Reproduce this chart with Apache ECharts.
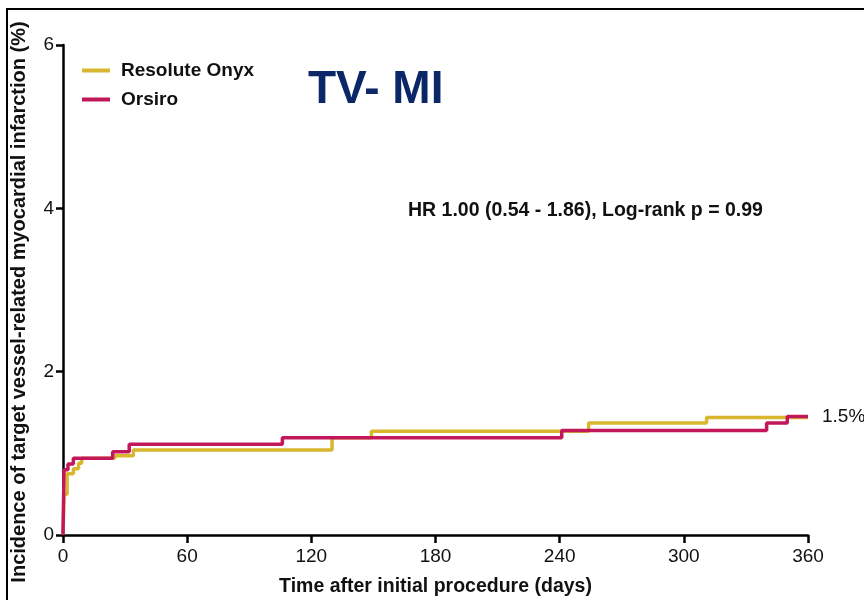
<!DOCTYPE html>
<html>
<head>
<meta charset="utf-8">
<script src="https://cdn.jsdelivr.net/npm/echarts@6/dist/echarts.min.js"></script>
<style>
  html, body { margin: 0; padding: 0; background: #fff; }
  #chart { width: 864px; height: 600px; }
</style>
</head>
<body>
<div id="chart"></div>
<script>
  // Kaplan-Meier steps: [day, cumulative incidence %]
  const onyxSteps = [
    [0, 0], [0.5, 0.5], [2, 0.75], [5, 0.81], [7.5, 0.88], [9, 0.94],
    [25, 0.97], [34, 1.04], [130, 1.19], [149, 1.27], [254, 1.37],
    [311, 1.44], [360, 1.44],
  ];
  const orsiroSteps = [
    [0, 0], [0.5, 0.8], [2.4, 0.87], [5, 0.94], [24, 1.02], [32, 1.11],
    [106, 1.19], [241, 1.28], [340, 1.37], [350, 1.45], [360, 1.45],
  ];
  const seriesNames = ['Resolute Onyx', 'Orsiro'];
  const xTicks = [0, 60, 120, 180, 240, 300, 360];
  const yTicks = [0, 2, 4, 6];
  const endLabelText = '1.5%';
  const statText = 'HR 1.00 (0.54 - 1.86), Log-rank p = 0.99';
  const yTitle = 'Incidence of target vessel-related myocardial infarction (%)';

  const font = 'Arial, "Liberation Sans", Helvetica, sans-serif';

  const chart = echarts.init(document.getElementById('chart'));
  chart.setOption({
    animation: false,
    backgroundColor: '#fff',
    title: {
      text: 'TV- MI',
      left: 303,
      top: 62,
      textStyle: { fontFamily: font, fontSize: 46, fontWeight: 'bold', color: '#0b2767' },
    },
    legend: {
      orient: 'vertical',
      left: 77,
      top: 56,
      itemGap: 10,
      itemWidth: 28,
      itemHeight: 4,
      icon: 'rect',
      data: seriesNames,
      textStyle: { fontFamily: font, fontSize: 19, fontWeight: 'bold', color: '#111', padding: [0, 0, 0, 6] },
    },
    grid: { left: 63, right: 56, top: 45, bottom: 65, outerBoundsMode: 'none', containLabel: false },
    xAxis: {
      type: 'value',
      min: 0,
      max: 360,
      interval: 60,
      name: 'Time after initial procedure (days)',
      nameLocation: 'middle',
      nameGap: 42,
      nameTextStyle: { fontFamily: font, fontSize: 19.5, fontWeight: 'bold', color: '#111' },
      splitLine: { show: false },
      axisLine: { lineStyle: { color: '#000', width: 2.5 } },
      axisTick: { length: 8, lineStyle: { color: '#000', width: 2.5 } },
      axisLabel: {
        fontFamily: font, fontSize: 19, color: '#111', margin: 12,
        formatter: (v) => (xTicks.includes(v) ? String(v) : ''),
      },
    },
    yAxis: {
      type: 'value',
      min: 0,
      max: 6,
      interval: 2,
      splitLine: { show: false },
      axisLine: { show: true, lineStyle: { color: '#000', width: 2.5 } },
      axisTick: { show: true, length: 7, lineStyle: { color: '#000', width: 2.5 } },
      axisLabel: {
        fontFamily: font, fontSize: 19, color: '#111', margin: 9,
        formatter: (v) => (yTicks.includes(v) ? String(v) : ''),
      },
    },
    series: [
      {
        name: seriesNames[0],
        type: 'line',
        step: 'end',
        symbol: 'none',
        color: '#d8b72e',
        lineStyle: { width: 3.5, color: '#d8b72e' },
        data: onyxSteps,
      },
      {
        name: seriesNames[1],
        type: 'line',
        step: 'end',
        symbol: 'none',
        color: '#c2185b',
        lineStyle: { width: 3.5, color: '#c2185b' },
        endLabel: {
          show: true,
          formatter: endLabelText,
          distance: 14,
          fontFamily: font,
          fontSize: 19,
          color: '#111',
        },
        data: orsiroSteps,
      },
    ],
    graphic: [
      {
        type: 'text',
        left: 408,
        top: 201,
        style: { text: statText, font: 'bold 19.5px ' + font, fill: '#111' },
      },
      {
        type: 'text',
        x: 19,
        y: 302,
        rotation: Math.PI / 2,
        style: {
          text: yTitle, font: 'bold 20px ' + font, fill: '#111',
          textAlign: 'center', textVerticalAlign: 'middle',
        },
      },
      {
        type: 'rect',
        shape: { x: 7, y: 9, width: 900, height: 700 },
        style: { fill: 'none', stroke: '#000', lineWidth: 2 },
        silent: true,
      },
    ],
  });
</script>
</body>
</html>
